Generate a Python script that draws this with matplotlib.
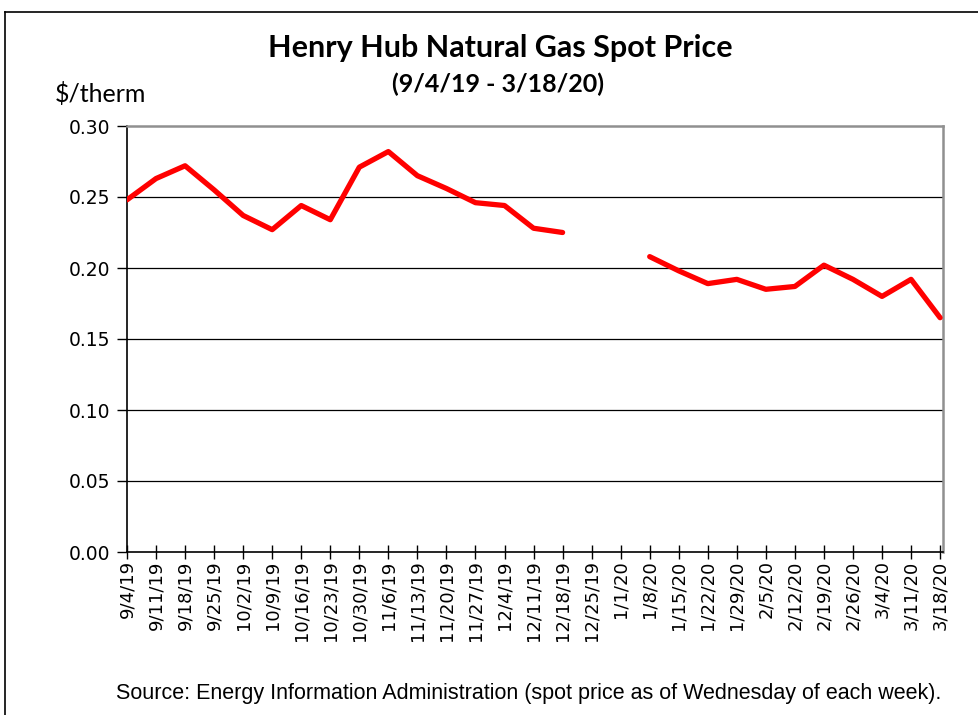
import numpy as np
import matplotlib.pyplot as plt
from matplotlib.lines import Line2D

dates = ['9/4/19', '9/11/19', '9/18/19', '9/25/19', '10/2/19', '10/9/19',
         '10/16/19', '10/23/19', '10/30/19', '11/6/19', '11/13/19', '11/20/19',
         '11/27/19', '12/4/19', '12/11/19', '12/18/19', '12/25/19', '1/1/20',
         '1/8/20', '1/15/20', '1/22/20', '1/29/20', '2/5/20', '2/12/20',
         '2/19/20', '2/26/20', '3/4/20', '3/11/20', '3/18/20']
# no quotes over the holidays -> gap in the line
price = [0.248, 0.263, 0.272, 0.255, 0.237, 0.227,
         0.244, 0.234, 0.271, 0.282, 0.265, 0.256,
         0.246, 0.244, 0.228, 0.225, np.nan, np.nan,
         0.208, 0.198, 0.189, 0.192, 0.185, 0.187,
         0.202, 0.192, 0.180, 0.192, 0.165]
yticks = [0.0, 0.05, 0.10, 0.15, 0.20, 0.25, 0.30]

fig = plt.figure(figsize=(9.79, 7.15), dpi=100)
ax = fig.add_axes([127 / 979, 1 - 552 / 715, 816 / 979, 426 / 715])

x = np.arange(len(dates))
ax.plot(x, price, color='#ff0000', lw=3.8, solid_capstyle='round',
        solid_joinstyle='round', zorder=3)

ax.set_ylim(0, 0.30)
ax.set_xlim(0, len(dates) - 1 + 0.1)
ax.set_yticks(yticks)
ax.set_yticklabels([f'{v:.2f}' for v in yticks], fontsize=13.5, family='DejaVu Sans')
ax.set_xticks(x)
ax.set_xticklabels(dates, rotation=90, fontsize=13, family='DejaVu Sans')
ax.tick_params(axis='x', direction='inout', length=10, width=1, pad=1)
ax.tick_params(axis='y', direction='out', length=7, width=1, pad=5)

for v in yticks[1:-1]:
    ax.axhline(v, color='black', lw=0.9, zorder=1)
for side in ['top', 'right']:
    ax.spines[side].set_color('#909090')
    ax.spines[side].set_linewidth(1.8)
for side in ['left', 'bottom']:
    ax.spines[side].set_color('black')
    ax.spines[side].set_linewidth(1.2)

fig.text(500 / 979, 1 - 48 / 715, 'Henry Hub Natural Gas Spot Price', ha='center',
         va='center', fontsize=22, fontweight='bold', family='Lato')
fig.text(498 / 979, 1 - 84 / 715, '(9/4/19 - 3/18/20)', ha='center', va='center',
         fontsize=18, fontweight='bold', family='Lato')
fig.text(55 / 979, 1 - 94 / 715, '$/therm', ha='left', va='center',
         fontsize=18, family='Lato')
fig.text(529 / 979, 1 - 693 / 715,
         'Source: Energy Information Administration (spot price as of Wednesday of each week).',
         ha='center', va='center', fontsize=15.5,
         family=['Liberation Sans Narrow', 'Liberation Sans'])

# outer frame of the chart box
fig.add_artist(Line2D([5 / 979, 5 / 979], [0, 1 - 12 / 715], color='black', lw=1.2,
                      transform=fig.transFigure))
fig.add_artist(Line2D([5 / 979, 1], [1 - 12 / 715, 1 - 12 / 715], color='black', lw=1.2,
                      transform=fig.transFigure))

fig.savefig('out.png', dpi=100)
